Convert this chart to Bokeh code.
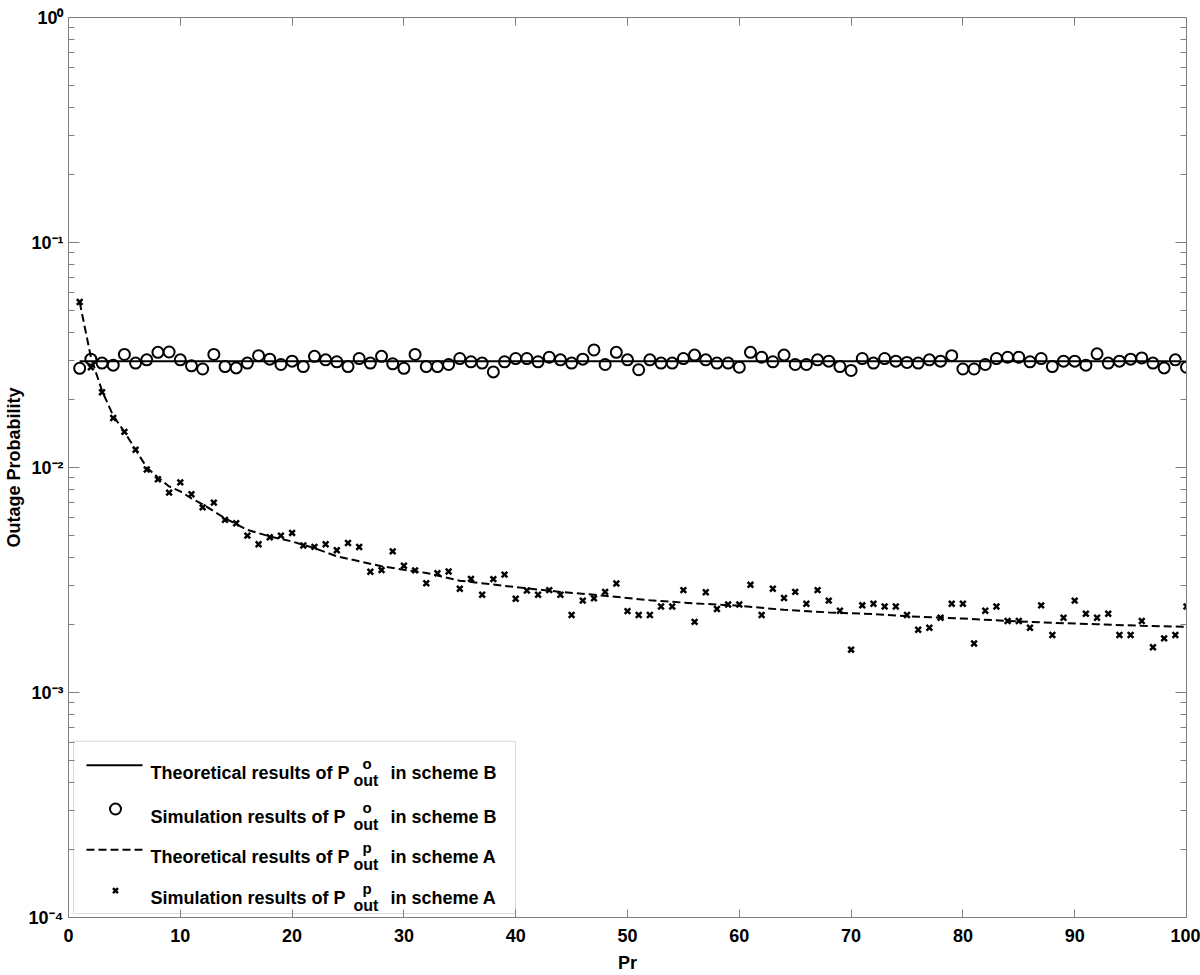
from bokeh.plotting import figure
from bokeh.models import (FixedTicker, LinearAxis, LogAxis, Label, BoxAnnotation,
                          CustomJSTickFormatter, Range1d)
from bokeh.embed import file_html
from bokeh.resources import INLINE

# ---------------- data ----------------
pr = list(range(1, 101))

sim_B = [0.0276, 0.0303, 0.0291, 0.0285, 0.0318, 0.0291, 0.0301, 0.0325, 0.0326, 0.0301,
         0.0283, 0.0274, 0.0318, 0.0281, 0.0277, 0.0291, 0.0314, 0.0303, 0.0287, 0.0297,
         0.0281, 0.0312, 0.0301, 0.0295, 0.0281, 0.0305, 0.0291, 0.0312, 0.0289, 0.0276,
         0.0318, 0.0281, 0.0281, 0.0287, 0.0305, 0.0295, 0.0291, 0.0266, 0.0295, 0.0305,
         0.0305, 0.0295, 0.0309, 0.0301, 0.0291, 0.0303, 0.0333, 0.0287, 0.0325, 0.0301,
         0.0272, 0.0301, 0.0291, 0.0291, 0.0305, 0.0316, 0.0301, 0.0291, 0.0291, 0.0279,
         0.0325, 0.0309, 0.0295, 0.0316, 0.0287, 0.0287, 0.0301, 0.0297, 0.0281, 0.0270,
         0.0305, 0.0291, 0.0305, 0.0297, 0.0293, 0.0291, 0.0301, 0.0297, 0.0314, 0.0274,
         0.0274, 0.0287, 0.0305, 0.0309, 0.0309, 0.0295, 0.0305, 0.0281, 0.0297, 0.0297,
         0.0285, 0.0320, 0.0291, 0.0297, 0.0303, 0.0307, 0.0291, 0.0277, 0.0301, 0.0279]

theory_B_x = [1, 100]
theory_B = [0.0297, 0.0297]

sim_A = [0.0544, 0.0279, 0.0216, 0.0166, 0.0144, 0.0120, 0.00980, 0.00887, 0.00773, 0.00859,
         0.00760, 0.00665, 0.00698, 0.00585, 0.00565, 0.00498, 0.00456, 0.00490, 0.00498, 0.00512,
         0.00450, 0.00444, 0.00456, 0.00429, 0.00462, 0.00443, 0.00344, 0.00350, 0.00424, 0.00366,
         0.00349, 0.00306, 0.00339, 0.00345, 0.00289, 0.00320, 0.00272, 0.00319, 0.00334, 0.00261,
         0.00284, 0.00272, 0.00285, 0.00272, 0.00221, 0.00256, 0.00262, 0.00280, 0.00305, 0.00230,
         0.00221, 0.00221, 0.00241, 0.00241, 0.00285, 0.00206, 0.00279, 0.00235, 0.00246, 0.00246,
         0.00301, 0.00221, 0.00289, 0.00263, 0.00280, 0.00248, 0.00285, 0.00256, 0.00231, 0.00155,
         0.00244, 0.00248, 0.00241, 0.00241, 0.00221, 0.00190, 0.00194, 0.00215, 0.00248, 0.00248,
         0.00165, 0.00231, 0.00241, 0.00208, 0.00208, 0.00194, 0.00244, 0.00180, 0.00215, 0.00256,
         0.00224, 0.00215, 0.00224, 0.00180, 0.00180, 0.00208, 0.00159, 0.00174, 0.00180, 0.00241]

theory_A_x = [1, 2, 3, 4, 5, 6, 7, 8, 9, 10, 11, 12, 14, 16, 18, 20, 22, 24, 26, 28, 30, 32, 35,
              40, 44, 48, 52, 56, 60, 64, 68, 72, 76, 80, 84, 88, 92, 96, 100]
theory_A = [0.0543, 0.0310, 0.0219, 0.0170, 0.0144, 0.0120, 0.0100, 0.00903, 0.00824, 0.00783,
            0.00729, 0.00686, 0.00595, 0.00528, 0.00494, 0.00469, 0.00438, 0.00403, 0.00383,
            0.00364, 0.00351, 0.00340, 0.00314, 0.00294, 0.00280, 0.00269, 0.00257, 0.00249,
            0.00243, 0.00233, 0.00227, 0.00223, 0.00217, 0.00213, 0.00208, 0.00204, 0.00201,
            0.00198, 0.00196]

x_ticks = [0, 10, 20, 30, 40, 50, 60, 70, 80, 90, 100]
y_exponents = [0, -1, -2, -3, -4]

legend_rows = [
    ("Theoretical results of P", "o", "in scheme B"),
    ("Simulation results of P", "o", "in scheme B"),
    ("Theoretical results of P", "p", "in scheme A"),
    ("Simulation results of P", "p", "in scheme A"),
]

# ---------------- layout helpers ----------------
FL, FT, FW, FH = 68, 17, 1118, 904   # frame position in page pixels
XMIN, XMAX = 0, 100
YMIN_E, YMAX_E = -4, 0


def dx(px):
    return XMIN + (px - FL) / FW * (XMAX - XMIN)


def dy(py):
    return 10 ** (YMAX_E - (py - FT) / FH * (YMAX_E - YMIN_E))


FONT = "Liberation Sans"
AXC = "#7f7f7f"

p = figure(width=1200, height=975,
           x_range=Range1d(XMIN, XMAX), y_range=Range1d(10 ** YMIN_E, 10 ** YMAX_E),
           y_axis_type="log", output_backend="svg", toolbar_location=None,
           min_border_left=68, min_border_top=17, min_border_right=14, min_border_bottom=54,
           background_fill_color="white", border_fill_color="white")
p.outline_line_color = None
p.xgrid.visible = False
p.ygrid.visible = False

xt = FixedTicker(ticks=x_ticks, minor_ticks=[])
yt = FixedTicker(ticks=[10.0 ** e for e in y_exponents],
                 minor_ticks=[k * 10.0 ** n for n in range(YMIN_E, YMAX_E) for k in range(2, 10)])
blank = CustomJSTickFormatter(code="return ''")
pow10 = CustomJSTickFormatter(code="""
const sup = {"0": "\\u2070", "1": "\\u00b9", "2": "\\u00b2", "3": "\\u00b3",
             "4": "\\u2074", "-": "\\u207b"};
const e = Math.round(Math.log10(tick));
return "10" + String(e).split("").map(c => sup[c]).join("");
""")


def style_axis(ax, tick_in, minor_in):
    ax.axis_line_color = AXC
    ax.axis_line_width = 1
    ax.major_tick_line_color = AXC
    ax.minor_tick_line_color = AXC
    ax.major_tick_in = tick_in
    ax.major_tick_out = 0
    ax.minor_tick_in = minor_in
    ax.minor_tick_out = 0


def label_style(ax, standoff, title_standoff):
    ax.major_label_text_font = FONT
    ax.major_label_text_font_style = "bold"
    ax.major_label_text_font_size = "18px"
    ax.major_label_text_color = "black"
    ax.major_label_standoff = standoff
    ax.axis_label_text_font = FONT
    ax.axis_label_text_font_style = "bold"
    ax.axis_label_text_font_size = "18px"
    ax.axis_label_text_color = "black"
    ax.axis_label_standoff = title_standoff


def no_labels(ax):
    ax.formatter = blank
    ax.major_label_text_font_size = "0px"
    ax.major_label_standoff = 0
    ax.axis_label = None


xa = p.xaxis[0]
xa.ticker = xt
style_axis(xa, 8, 0)
label_style(xa, 11, 8)
xa.axis_label = "Pr"

ya = p.yaxis[0]
ya.ticker = yt
ya.formatter = pow10
style_axis(ya, 11, 6)
label_style(ya, 5, 2)
ya.axis_label = "Outage Probability"

top = LinearAxis(ticker=xt)
style_axis(top, 8, 0)
no_labels(top)
p.add_layout(top, "above")

right = LogAxis(ticker=yt)
style_axis(right, 11, 6)
no_labels(right)
p.add_layout(right, "right")

# ---------------- data marks ----------------
p.line(theory_B_x, theory_B, line_color="black", line_width=2)
p.scatter(pr, sim_B, marker="circle", size=11, fill_color=None,
          line_color="black", line_width=2)
p.line(theory_A_x, theory_A, line_color="black", line_width=2, line_dash="8 4")
p.scatter(pr, sim_A, marker="x", size=8, line_color="black", line_width=2.5)


# ---------------- legend ----------------
def add_text(txt, px, py, size, align="left", baseline="alphabetic"):
    p.add_layout(Label(x=XMIN, y=10 ** YMIN_E, x_offset=px - FL, y_offset=(FT + FH) - py,
                       text=txt, text_font=FONT, text_font_style="bold",
                       text_font_size=f"{size}px", text_align=align,
                       text_baseline=baseline, text_color="black"))


box = BoxAnnotation(left=dx(73), right=dx(515), top=dy(744), bottom=dy(917),
                    fill_color="white", fill_alpha=1.0, line_color=AXC, line_width=1,
                    level="underlay")
p.add_layout(box)

row_base = [776, 820, 860, 901]
row_mid = [768, 812, 853, 894]

p.line([dx(86), dx(142)], [dy(row_mid[0])] * 2, line_color="black", line_width=2)
p.scatter([dx(115)], [dy(row_mid[1])], marker="circle", size=11, fill_color=None,
          line_color="black", line_width=2)
p.line([dx(86), dx(142)], [dy(row_mid[2])] * 2, line_color="black", line_width=2,
       line_dash="8 4")
p.scatter([dx(115)], [dy(row_mid[3])], marker="x", size=7, line_color="black", line_width=2.5)

for (main, sup, tail), base in zip(legend_rows, row_base):
    add_text(main, 150, base, 18)
    add_text(sup, 362, base - 9.5, 15)
    add_text("out", 353, base + 8, 16)
    add_text(tail, 390, base, 18)

open("out.html", "w").write(file_html(p, INLINE))
